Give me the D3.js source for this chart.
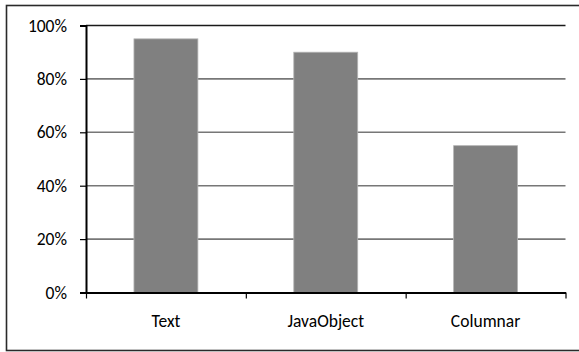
<!DOCTYPE html>
<html>
<head>
<meta charset="utf-8">
<script src="https://cdn.jsdelivr.net/npm/d3@7"></script>
<style>
  html, body { margin: 0; padding: 0; background: #fff; }
  svg text { font-family: Carlito, Calibri, Lato, "Open Sans", sans-serif; fill: #000; }
</style>
</head>
<body>
<svg id="chart" width="579" height="352"></svg>
<script>
// Share of cases per storage format
const categories = ["Text", "JavaObject", "Columnar"];
const values = [0.95, 0.90, 0.55];
const yTicks = [0, 0.2, 0.4, 0.6, 0.8, 1.0];

const svg = d3.select("#chart");
const plot = { left: 86, right: 565.5, top: 25.5, bottom: 292.5 };

// Outer frame
svg.append("rect")
  .attr("x", 6.5).attr("y", 5.5)
  .attr("width", 590).attr("height", 345)
  .attr("fill", "none").attr("stroke", "#2a2a2a").attr("stroke-width", 1.6);

const x = d3.scaleBand()
  .domain(categories)
  .range([plot.left, plot.right])
  .paddingInner(0.6)
  .paddingOuter(0.3);

const y = d3.scaleLinear().domain([0, 1]).range([plot.bottom, plot.top]);

// Horizontal gridlines
svg.append("g")
  .selectAll("line")
  .data(yTicks.filter(t => t > 0))
  .join("line")
  .attr("x1", plot.left).attr("x2", plot.right)
  .attr("y1", d => y(d)).attr("y2", d => y(d))
  .attr("stroke", d => d === 1 ? "#1a1a1a" : "#777")
  .attr("stroke-width", 1.6);

// Bars
svg.append("g")
  .selectAll("rect")
  .data(categories.map((c, i) => ({ c, v: values[i] })))
  .join("rect")
  .attr("x", d => x(d.c))
  .attr("y", d => y(d.v))
  .attr("width", x.bandwidth())
  .attr("height", d => y(0) - y(d.v))
  .attr("fill", "#808080")
  .attr("stroke", "#b4b4b4")
  .attr("stroke-width", 0.8);

// Y axis
const yAxis = svg.append("g")
  .attr("transform", `translate(${plot.left},0)`)
  .call(d3.axisLeft(y).tickValues(yTicks).tickFormat(d3.format(".0%")).tickSize(6).tickPadding(13));
yAxis.select(".domain").attr("stroke", "#000").attr("stroke-width", 2);
yAxis.selectAll(".tick line").attr("stroke", "#000").attr("stroke-width", 1.2);
yAxis.selectAll(".tick text").attr("font-size", 17.5).attr("fill", "#000");

// X axis: tick marks at category boundaries
const bounds = d3.scaleLinear().domain([0, categories.length]).range([plot.left, plot.right]);
const xAxis = svg.append("g")
  .attr("transform", `translate(0,${plot.bottom})`)
  .call(d3.axisBottom(bounds).tickValues(d3.range(categories.length + 1)).tickFormat("").tickSize(6).tickSizeOuter(0));
xAxis.select(".domain").attr("stroke", "#000").attr("stroke-width", 2);
xAxis.selectAll(".tick line").attr("stroke", "#000").attr("stroke-width", 1.2);

// Category labels
const xLabels = svg.append("g")
  .attr("transform", `translate(0,${plot.bottom})`)
  .call(d3.axisBottom(x).tickSize(0).tickPadding(22));
xLabels.select(".domain").remove();
xLabels.selectAll(".tick text").attr("font-size", 17.5).attr("fill", "#000");
</script>
</body>
</html>
